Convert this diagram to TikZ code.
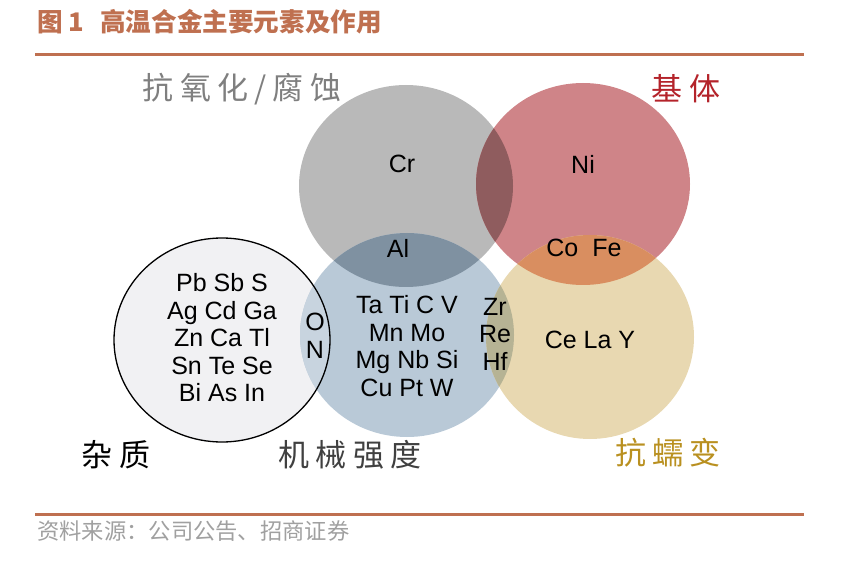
\documentclass[tikz,border=0pt]{standalone}
\usepackage{fontspec}
\setmainfont{Liberation Sans}
\newfontfamily\cjk{Noto Sans CJK SC}
\newfontfamily\cjkls{Noto Sans CJK SC}[LetterSpace=20]
\definecolor{titlecol}{HTML}{BF7050}
\definecolor{cgray}{HTML}{B9B9B9}
\definecolor{cred}{HTML}{CF8488}
\definecolor{cgr}{HTML}{8F5C5E}
\definecolor{cblue}{HTML}{B9C9D7}
\definecolor{cgb}{HTML}{7F91A1}
\definecolor{cyel}{HTML}{E8D8B1}
\definecolor{cry}{HTML}{D98E60}
\definecolor{cby}{HTML}{B6B394}
\definecolor{cwhite}{HTML}{F1F1F3}
\definecolor{cwb}{HTML}{C8D4DF}
\definecolor{lgray}{HTML}{7F7F7F}
\definecolor{lred}{HTML}{B4232A}
\definecolor{lgold}{HTML}{B99020}
\definecolor{lmech}{HTML}{404040}
\definecolor{foot}{HTML}{A0A0A0}
\tikzset{
  elem/.style={font=\fontsize{25}{27.5}\selectfont, align=center, text=black, inner sep=0pt},
  cat/.style={font=\cjkls\fontsize{31}{32}\selectfont, inner sep=0pt},
  rule/.style={draw=titlecol, line width=3pt},
}
\begin{document}
\begin{tikzpicture}[x=1pt,y=-1pt]
\useasboundingbox (0,0) rectangle (843,561);
% shapes
\def\G{(406,186) ellipse [x radius=107, y radius=101]}
\def\R{(583,184) ellipse [x radius=107, y radius=101]}
\def\B{(407,335) ellipse [x radius=107, y radius=102]}
\def\Y{(590,337) ellipse [x radius=104, y radius=102]}
\def\W{(222,340) ellipse [x radius=108, y radius=102]}
\fill[cwhite] \W;
\fill[cgray] \G;
\fill[cred] \R;
\fill[cblue] \B;
\fill[cyel] \Y;
\begin{scope}\clip \G; \fill[cgr] \R; \end{scope}
\begin{scope}\clip \G; \fill[cgb] \B; \end{scope}
\begin{scope}\clip \R; \fill[cry] \Y; \end{scope}
\begin{scope}\clip \B; \fill[cby] \Y; \end{scope}
\begin{scope}\clip \W; \fill[cwb] \B; \end{scope}
\draw[black, line width=1.3pt] \W;
% title and rules
\node[anchor=west, text=titlecol, inner sep=0pt, font=\cjk\bfseries\fontsize{25.6}{27}\selectfont] (title) at (37,22) {图 1\hspace{16pt}高温合金主要元素及作用};
\draw[rule] (35,55) -- (804,55);
\draw[rule] (35,514) -- (804,514);
\node[anchor=west, text=foot, inner sep=0pt, font=\cjk\fontsize{22.3}{23}\selectfont] (src) at (37,531) {资料来源：公司公告、招商证券};
% category labels
\node[cat, text=lgray] (c1) at (242,89) {抗氧化/腐蚀};
\node[cat, text=lred] (c2) at (686,89) {基体};
\node[cat, text=black] (c3) at (116,455) {杂质};
\node[cat, text=lmech] (c4) at (350,455) {机械强度};
\node[cat, text=lgold] (c5) at (668,453) {抗蠕变};
% elements
\node[elem] (cr) at (402,164) {Cr};
\node[elem] (ni) at (583,164) {Ni};
\node[elem] (al) at (398,248) {Al};
\node[elem] (cofe) at (584,248) {Co\hspace{14pt}Fe};
\node[elem] (imp) at (222,338) {Pb Sb S\\Ag Cd Ga\\Zn Ca Tl\\Sn Te Se\\Bi As In};
\node[elem] (mech) at (407,346) {Ta Ti C V\\Mn Mo\\Mg Nb Si\\Cu Pt W};
\node[elem] (on) at (315,336) {O\\N};
\node[elem] (zr) at (495,334) {Zr\\Re\\Hf};
\node[elem] (cely) at (590,340) {Ce La Y};
\end{tikzpicture}
\end{document}
